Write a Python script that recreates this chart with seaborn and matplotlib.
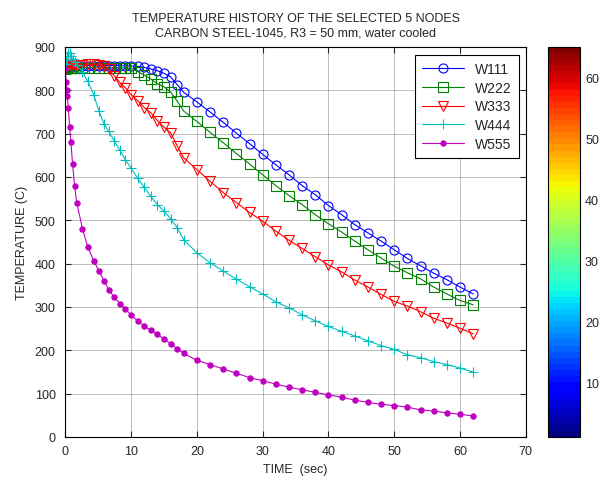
"""Temperature history of 5 nodes, carbon steel 1045, water cooled.
"""
import matplotlib
matplotlib.use("Agg")
import matplotlib.pyplot as plt
import seaborn as sns
from matplotlib.cm import ScalarMappable
from matplotlib.colors import Normalize

# Time vector (sec), shared by all nodes
time = [0, 0.1, 0.2, 0.3, 0.45, 0.65, 0.85, 1.1, 1.4, 1.75,
        2.6, 3.4, 4.3, 5.1, 5.9, 6.6, 7.4, 8.3, 9.1, 10,
        11, 12, 13, 14, 15, 16, 17, 18,
        20, 22, 24, 26, 28, 30, 32, 34, 36, 38, 40, 42, 44, 46,
        48, 50, 52, 54, 56, 58, 60, 62]

# Temperatures (C)
w111 = [850, 852, 853, 854, 855, 856, 856, 857, 857, 857,
        857, 857, 857, 857, 857, 857, 857, 857, 856, 856,
        855, 853, 849, 845, 839, 831, 813, 795,
        773, 750, 726, 701, 677, 652, 628, 605, 580, 559, 534, 513, 490, 471,
        452, 432, 412, 395, 378, 363, 346, 330]
w222 = [850, 851, 852, 852, 852, 852, 852, 852, 852, 852,
        852, 852, 852, 852, 852, 852, 852, 852, 852, 851,
        843, 835, 826, 815, 808, 796, 775, 752,
        728, 703, 679, 654, 630, 605, 580, 557, 536, 513, 492, 473, 452, 432,
        413, 394, 379, 365, 346, 330, 315, 305]
w333 = [850, 853, 856, 858, 860, 861, 860, 859, 858, 858,
        858, 860, 860, 858, 855, 848, 834, 818, 806, 790,
        776, 760, 748, 730, 715, 702, 672, 644,
        617, 590, 564, 541, 518, 498, 475, 454, 435, 416, 397, 381, 362, 346,
        329, 313, 302, 289, 274, 263, 251, 238]
w444 = [850, 860, 870, 880, 886, 885, 878, 872, 866, 858,
        842, 821, 790, 752, 722, 705, 684, 662, 640, 620,
        597, 576, 555, 536, 521, 504, 483, 455,
        425, 402, 383, 364, 347, 330, 312, 298, 282, 268, 255, 244, 233, 222,
        211, 202, 190, 183, 174, 167, 159, 150]
w555 = [850, 820, 800, 787, 760, 715, 680, 630, 580, 539,
        481, 439, 407, 383, 360, 340, 323, 308, 296, 281,
        268, 256, 246, 237, 226, 215, 204, 193,
        177, 167, 157, 147, 137, 130, 122, 115, 109, 103, 97, 92, 85, 80,
        75.5, 72.5, 69, 62.5, 60, 55.5, 52.5, 48.6]

names = ["W111", "W222", "W333", "W444", "W555"]
series = [w111, w222, w333, w444, w555]

# Colorbar range and ticks
cbar_range = [1, 65]
cbar_ticks = [10, 20, 30, 40, 50, 60]

sns.set_style("ticks")
plt.rcParams["font.family"] = ["Liberation Sans", "DejaVu Sans"]
plt.rcParams["font.size"] = 9

# Line styles (MATLAB look)
colors = ["#0000ff", "#008000", "#ff0000", "#00bfbf", "#bf00bf"]
markers = ["o", "s", "v", "+", "o"]
msizes = [6.5, 6.5, 7, 7, 3.8]
faces = ["none", "none", "none", "none", "#bf00bf"]

fig = plt.figure(figsize=(6.05, 4.81), dpi=100)
ax = fig.add_axes([0.108, 0.0894, 0.761, 0.811])
cax = fig.add_axes([0.906, 0.0894, 0.053, 0.811])

for name, vals, c, m, ms, fc in zip(names, series, colors, markers, msizes, faces):
    sns.lineplot(
        x=time,
        y=vals,
        ax=ax,
        color=c,
        marker=m,
        markersize=ms,
        markerfacecolor=fc,
        markeredgecolor=c,
        markeredgewidth=0.8,
        linewidth=0.8,
        label=name,
    )

ax.set_xlim(0, 70)
ax.set_ylim(0, 900)
ax.set_xticks(range(0, 71, 10))
ax.set_yticks(range(0, 901, 100))
ax.grid(True, linestyle=(0, (1.2, 1.2)), color="0.4", linewidth=0.6)
ax.tick_params(direction="in", top=True, right=True, length=4, labelsize=9)
ax.tick_params(axis="y", pad=7)
ax.tick_params(axis="x", pad=6)
for sp in ax.spines.values():
    sp.set_color("k")
    sp.set_linewidth(0.8)

ax.set_xlabel("TIME  (sec)", fontsize=9, labelpad=4)
ax.set_ylabel("TEMPERATURE (C)", fontsize=9, labelpad=5)
ax.set_title(
    "TEMPERATURE HISTORY OF THE SELECTED 5 NODES\n"
    "CARBON STEEL-1045, R3 = 50 mm, water cooled",
    fontsize=9,
    linespacing=1.35,
    pad=8,
)

leg = ax.legend(
    loc="upper right",
    bbox_to_anchor=(0.985, 0.98),
    borderaxespad=0,
    fancybox=False,
    framealpha=1,
    edgecolor="k",
    fontsize=10,
    handlelength=3,
    labelspacing=0.35,
    borderpad=0.5,
)
leg.get_frame().set_linewidth(0.8)

# Jet colorbar on the right
sm = ScalarMappable(norm=Normalize(*cbar_range), cmap=plt.get_cmap("jet", 64))
cb = fig.colorbar(sm, cax=cax)
cb.set_ticks(cbar_ticks)
cax.tick_params(direction="in", left=True, right=True, length=3, labelsize=9)
cb.outline.set_linewidth(0.8)
cb.outline.set_edgecolor("k")

fig.savefig("out.png", dpi=100)
